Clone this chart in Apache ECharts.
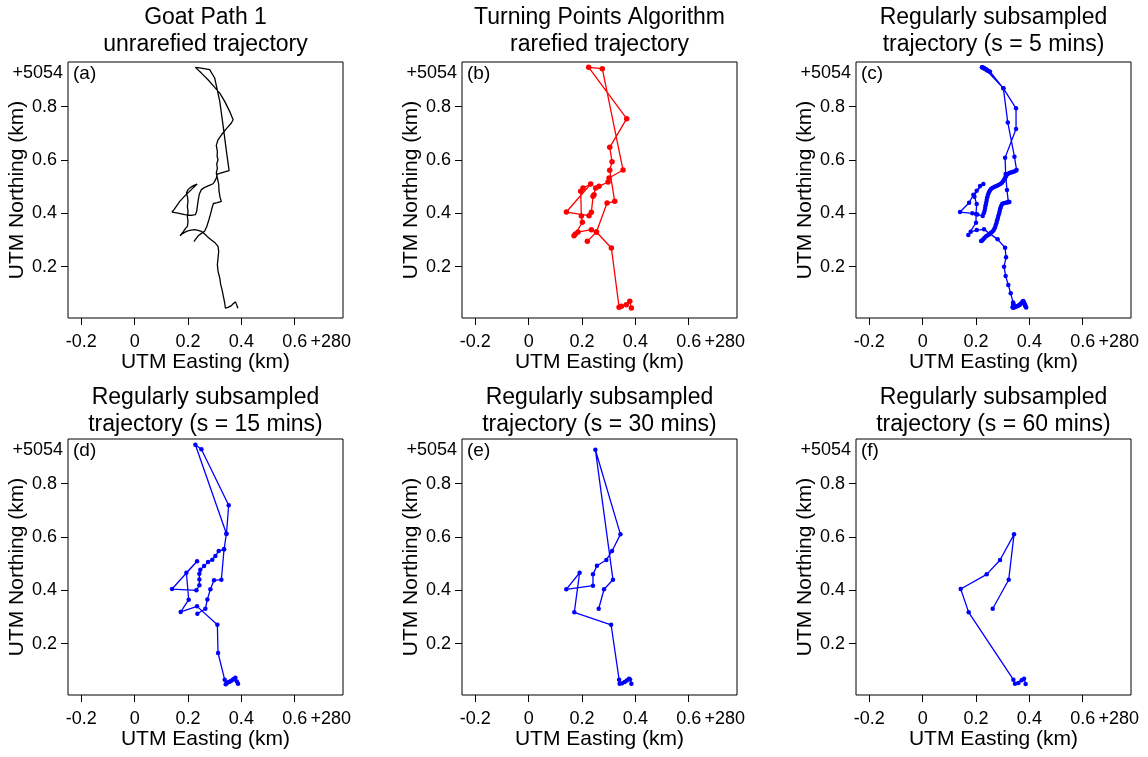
<!DOCTYPE html>
<html>
<head>
<meta charset="utf-8">
<script src="https://cdn.jsdelivr.net/npm/echarts@6/dist/echarts.min.js"></script>
<style>
  html, body { margin: 0; padding: 0; background: #fff; }
  #chart { width: 1148px; height: 757px; }
</style>
</head>
<body>
<div id="chart"></div>
<script>
// values are offsets in km: [easting - 280, northing - 5054]

// (a) full trajectory
const pathA = [
  [0.387,0.044],[0.378,0.068],[0.370,0.062],[0.3625,0.054],[0.35,0.0475],[0.34,0.045],
  [0.3375,0.064],[0.3325,0.089],[0.3275,0.114],[0.3225,0.1325],[0.319,0.1575],[0.3125,0.1825],
  [0.31,0.2075],[0.3125,0.2325],[0.315,0.2575],[0.3125,0.276],[0.30,0.291],[0.2875,0.30],
  [0.275,0.31],[0.2625,0.3225],[0.25,0.3325],[0.2375,0.336],[0.225,0.339],[0.206,0.336],
  [0.194,0.3325],[0.181,0.325],[0.17,0.316],
  [0.181,0.33],[0.19,0.3425],[0.1975,0.351],[0.20,0.37],[0.1975,0.389],[0.20,0.4075],
  [0.1975,0.426],[0.20,0.445],[0.1975,0.464],[0.194,0.476],[0.20,0.489],[0.21,0.4975],
  [0.2225,0.505],[0.234,0.51],
  [0.2125,0.489],[0.19,0.4675],[0.169,0.445],[0.1475,0.414],[0.14,0.405],
  [0.1625,0.401],[0.1875,0.395],[0.2125,0.3925],[0.2275,0.395],[0.2325,0.4075],
  [0.235,0.426],[0.2375,0.445],[0.24,0.46],[0.2425,0.4725],[0.25,0.489],[0.2625,0.4975],
  [0.2775,0.504],[0.294,0.511],[0.30,0.52],[0.306,0.5325],[0.31,0.5475],[0.331,0.554],[0.354,0.56],
  [0.344,0.6325],[0.331,0.7325],[0.319,0.82],[0.30,0.9075],[0.281,0.939],
  [0.25,0.945],[0.2275,0.9475],
  [0.25,0.926],[0.275,0.901],[0.30,0.8725],[0.319,0.851],[0.3375,0.82],[0.356,0.7825],
  [0.369,0.751],[0.3625,0.739],[0.344,0.7175],[0.3275,0.6975],[0.3125,0.676],[0.306,0.655],
  [0.31,0.6325],[0.309,0.614],[0.3125,0.601],[0.3075,0.585],[0.31,0.57],[0.306,0.551],
  [0.31,0.5325],[0.315,0.51],[0.316,0.485],[0.32,0.46],[0.325,0.445],[0.31,0.44],
  [0.295,0.437],[0.29,0.42],[0.285,0.40],[0.278,0.375],[0.27,0.35],[0.262,0.333],
  [0.25,0.325],[0.238,0.316],[0.23,0.305],[0.222,0.294]
];

// (b) turning points
const pathB = [
  [0.385,0.045],[0.379,0.07],[0.366,0.0575],[0.3475,0.0513],[0.339,0.0475],
  [0.31,0.27],[0.254,0.33],[0.235,0.339],[0.185,0.33],[0.175,0.3225],[0.17,0.316],
  [0.2013,0.3663],[0.1975,0.39],[0.195,0.4825],[0.2038,0.495],[0.2325,0.51],
  [0.1413,0.405],[0.2263,0.3913],[0.235,0.4038],[0.2413,0.4638],[0.245,0.47],
  [0.2513,0.495],[0.2638,0.5013],[0.2975,0.5175],[0.3013,0.5325],[0.3538,0.5625],
  [0.276,0.9425],[0.225,0.9475],[0.3675,0.755],[0.3038,0.6475],[0.3125,0.5938],
  [0.3038,0.5613],[0.3225,0.445],[0.2938,0.4388],[0.254,0.33],[0.22,0.295]
];

// (c) every 5 mins
const pathC = [
  [0.388,0.047],[0.386,0.050],[0.385,0.054],[0.383,0.058],[0.381,0.063],[0.379,0.068],
  [0.377,0.071],[0.374,0.069],[0.371,0.065],[0.368,0.061],[0.365,0.058],[0.362,0.056],
  [0.358,0.054],[0.354,0.052],[0.350,0.051],[0.346,0.049],[0.342,0.047],[0.339,0.046],
  [0.337,0.048],[0.339,0.052],[0.341,0.056],[0.340,0.061],[0.339,0.066],
  [0.330,0.100],[0.321,0.131],[0.311,0.165],[0.305,0.200],[0.3125,0.235],[0.309,0.271],
  [0.281,0.3025],[0.23,0.34],[0.2025,0.3375],[0.18,0.331],[0.171,0.319],
  [0.200,0.365],[0.200,0.3975],[0.2025,0.435],[0.194,0.4625],[0.2025,0.485],[0.215,0.5025],[0.2275,0.51],
  [0.19,0.47],[0.174,0.44],[0.14,0.405],
  [0.186,0.40],[0.205,0.396],[0.225,0.39],
  [0.229,0.400],[0.232,0.410],[0.234,0.420],[0.236,0.430],[0.238,0.440],[0.240,0.450],
  [0.242,0.460],[0.245,0.470],[0.248,0.478],[0.252,0.486],[0.257,0.492],[0.263,0.496],
  [0.270,0.500],[0.277,0.503],[0.284,0.506],[0.291,0.510],[0.297,0.515],[0.302,0.521],
  [0.306,0.528],[0.310,0.535],[0.314,0.542],[0.319,0.548],[0.325,0.551],[0.331,0.553],
  [0.337,0.555],[0.343,0.557],[0.349,0.560],[0.352,0.563],
  [0.344,0.6125],[0.319,0.741],[0.3025,0.869],
  [0.2525,0.931],[0.247,0.934],[0.242,0.937],[0.237,0.940],[0.233,0.942],[0.229,0.945],
  [0.225,0.947],[0.222,0.948],[0.226,0.946],[0.231,0.943],[0.236,0.940],[0.241,0.937],
  [0.3025,0.869],[0.35,0.794],[0.35,0.716],[0.309,0.609],[0.311,0.548],[0.316,0.4875],[0.321,0.444],
  [0.325,0.443],[0.318,0.441],[0.311,0.440],[0.304,0.438],[0.298,0.435],[0.294,0.428],
  [0.291,0.419],[0.289,0.410],[0.287,0.401],[0.284,0.392],[0.282,0.383],[0.279,0.374],
  [0.277,0.365],[0.274,0.356],[0.271,0.347],[0.267,0.339],[0.262,0.332],[0.256,0.327],
  [0.250,0.322],[0.244,0.318],[0.238,0.314],[0.232,0.309],[0.227,0.303],[0.223,0.298],[0.219,0.296]
];

// (d) every 15 mins
const pathD = [
  [0.3875,0.05],[0.383,0.058],[0.3775,0.0725],[0.372,0.068],[0.3688,0.066],[0.362,0.061],
  [0.356,0.057],[0.35,0.055],[0.345,0.052],[0.3413,0.0475],[0.3375,0.065],
  [0.3125,0.165],[0.31,0.271],[0.2338,0.34],[0.1725,0.319],[0.2025,0.365],[0.1938,0.466],
  [0.234,0.509],[0.14,0.405],[0.2313,0.40],[0.2425,0.419],[0.2425,0.441],[0.2425,0.4625],
  [0.246,0.4775],[0.26,0.491],[0.275,0.506],[0.291,0.515],[0.3025,0.529],[0.315,0.5475],
  [0.335,0.554],[0.344,0.6125],[0.2275,0.946],[0.25,0.929],[0.3525,0.719],[0.344,0.6125],
  [0.335,0.554],[0.325,0.44],[0.2975,0.4375],[0.2838,0.404],[0.2725,0.366],[0.265,0.331],[0.235,0.3125]
];

// (e) every 30 mins
const pathE = [
  [0.385,0.05],[0.38,0.066],[0.376,0.069],[0.368,0.062],[0.36,0.056],[0.35,0.052],[0.341,0.05],
  [0.339,0.065],[0.309,0.271],[0.171,0.3175],[0.191,0.466],[0.141,0.404],[0.241,0.4175],
  [0.241,0.46],[0.256,0.4925],[0.291,0.514],[0.3125,0.5475],[0.344,0.61],[0.25,0.9275],
  [0.316,0.44],[0.2825,0.404],[0.2625,0.331]
];

// (f) every 60 mins
const pathF = [
  [0.386,0.049],[0.38,0.069],[0.371,0.0625],[0.359,0.0525],[0.346,0.05],[0.34,0.065],
  [0.1725,0.3175],[0.1425,0.405],[0.24,0.46],[0.29,0.514],[0.3425,0.61],[0.3225,0.44],[0.2625,0.331]
];

const titles = [
  'Goat Path 1\nunrarefied trajectory',
  'Turning Points Algorithm\nrarefied trajectory',
  'Regularly subsampled\ntrajectory (s = 5 mins)',
  'Regularly subsampled\ntrajectory (s = 15 mins)',
  'Regularly subsampled\ntrajectory (s = 30 mins)',
  'Regularly subsampled\ntrajectory (s = 60 mins)'
];
const panelLabels = ['(a)', '(b)', '(c)', '(d)', '(e)', '(f)'];
const xTicks = [-0.2, 0, 0.2, 0.4, 0.6];
const yTicks = [0.2, 0.4, 0.6, 0.8];
const eastOffset = '+280';
const northOffset = '+5054';
const paths = [pathA, pathB, pathC, pathD, pathE, pathF];
const colors = ['#000000', '#ff0000', '#0000ff', '#0000ff', '#0000ff', '#0000ff'];

const FONT = '"Liberation Sans", Arial, Helvetica, sans-serif';
const colLeft = [68, 462, 856];
const rowTop = [62, 439];
const titleTop = [4, 384];
const boxW = 275, boxH = 256;
const xMin = -0.25, xMax = 0.781;
const yMin = 0.0076, yMax = 0.9676;
const offsetLabelX = 0.735;

const chart = echarts.init(document.getElementById('chart'));

const grid = [], xAxis = [], yAxis = [], series = [], title = [], graphic = [];

paths.forEach(function (data, i) {
  const col = i % 3, row = Math.floor(i / 3);
  const left = colLeft[col], top = rowTop[row];

  grid.push({
    left: left, top: top, width: boxW, height: boxH,
    show: true, borderColor: '#000', borderWidth: 1, backgroundColor: 'transparent',
    containLabel: false, outerBoundsMode: 'none'
  });

  xAxis.push({
    gridIndex: i, type: 'value', min: xMin, max: xMax,
    axisLine: { show: false, onZero: false },
    splitLine: { show: false },
    axisTick: { show: true, inside: false, length: 7, customValues: xTicks, lineStyle: { color: '#000', width: 1 } },
    axisLabel: {
      customValues: xTicks.concat([offsetLabelX]),
      formatter: function (v) { return v > 0.7 ? eastOffset : String(Math.round(v * 10) / 10); },
      color: '#000', fontSize: 18, fontFamily: FONT, margin: 15
    },
    name: 'UTM Easting (km)', nameLocation: 'middle', nameGap: 33,
    nameTextStyle: { color: '#000', fontSize: 21, fontFamily: FONT }
  });

  yAxis.push({
    gridIndex: i, type: 'value', min: yMin, max: yMax,
    axisLine: { show: false, onZero: false },
    splitLine: { show: false },
    axisTick: { show: true, inside: false, length: 7, customValues: yTicks, lineStyle: { color: '#000', width: 1 } },
    axisLabel: {
      customValues: yTicks,
      formatter: function (v) { return String(Math.round(v * 10) / 10); },
      color: '#000', fontSize: 18, fontFamily: FONT, margin: 11
    },
    name: 'UTM Northing (km)', nameLocation: 'middle', nameGap: 38, nameRotate: 90,
    nameTextStyle: { color: '#000', fontSize: 21, fontFamily: FONT }
  });

  series.push({
    type: 'line', xAxisIndex: i, yAxisIndex: i, data: data,
    showSymbol: i > 0, symbol: 'circle', symbolSize: i === 1 ? 5.5 : 4.5,
    lineStyle: { color: colors[i], width: 1.3 },
    itemStyle: { color: colors[i] },
    silent: true, animation: false
  });

  title.push({
    text: titles[i], left: left + boxW / 2, top: titleTop[row], textAlign: 'center', padding: 0,
    textStyle: { color: '#000', fontSize: 23, fontWeight: 'normal', fontFamily: FONT, lineHeight: 27 }
  });

  graphic.push({
    type: 'text', x: left - 5, y: top + 11.5,
    style: { text: northOffset, fill: '#000', font: '18px ' + FONT, align: 'right', verticalAlign: 'middle' }
  });
  graphic.push({
    type: 'text', x: left + 5, y: top + 11.5,
    style: { text: panelLabels[i], fill: '#000', font: '19px ' + FONT, align: 'left', verticalAlign: 'middle' }
  });
});

chart.setOption({
  backgroundColor: '#fff',
  animation: false,
  title: title,
  grid: grid,
  xAxis: xAxis,
  yAxis: yAxis,
  series: series,
  graphic: graphic
});
</script>
</body>
</html>
